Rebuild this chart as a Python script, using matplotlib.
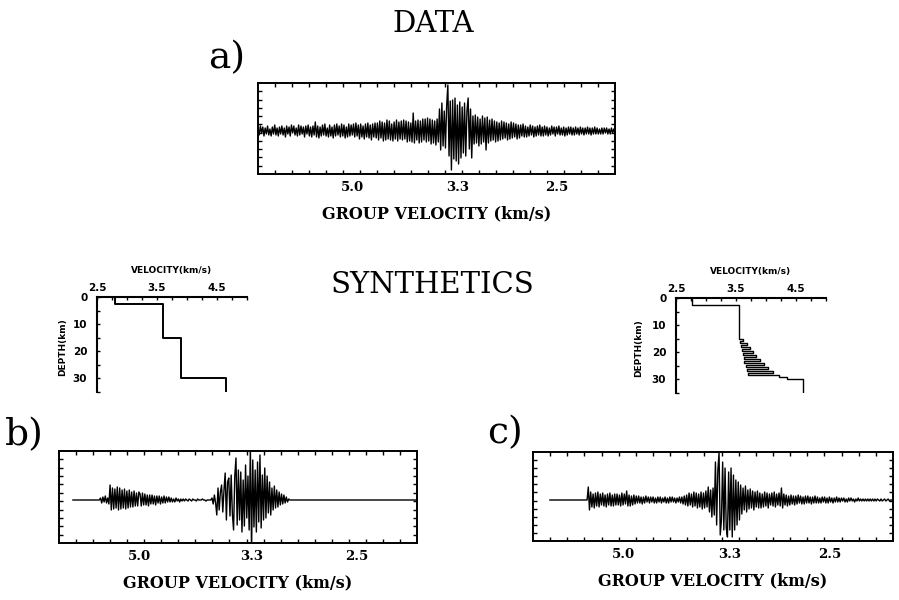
import numpy as np
import matplotlib
matplotlib.use("Agg")
import matplotlib.pyplot as plt

# group velocity labels under each seismogram (km/s)
vel_ticks = [5.0, 3.3, 2.5]
vel_labels = ["5.0", "3.3", "2.5"]

# slowness window (s/km) shown by each seismogram panel
win_a = (0.1080, 0.4566)
win_b = (0.1265, 0.4554)
win_c = (0.1120, 0.4615)

# first sample of each trace (s/km); traces run to the right edge
start_a = 0.1080
start_b = 0.1393
start_c = 0.1284

# trace amplitudes
amp_a = [3, -4, 5, -2, 4, -5, 3, -3, 5, -4, 2, -5, 4, -3, 6, -4, 3, -5, 4, -3,
         5, -4, 3, -6, 5, -3, 4, -5, 6, -2, 5, -4, 3, -5, 6, -4, 5, -3, 4, -6,
         5, -3, 6, -5, 4, -6, 5, -4, 9, -6, 5, -7, 4, -5, 6, -4, 7, -5, 3, -6,
         6, -5, 4, -7, 6, -5, 7, -4, 5, -6, 7, -5, 6, -7, 4, -6, 7, -5, 6, -4,
         7, -6, 8, -5, 6, -8, 7, -6, 5, -8, 7, -6, 8, -7, 6, -9, 7, -6, 8, -7,
         8, -9, 10, -7, 9, -10, 8, -9, 11, -8, 10, -9, 7, -10, 9, -8, 11, -10, 9, -8,
         10, -9, 11, -8, 10, -11, 9, -10, 8, -11, 18, -12, 10, -9, 11, -12, 10, -11, 12, -9,
         12, -11, 13, -10, 12, -13, 11, -12, 10, -14, 12, -11, 22, -19, 28, -15, 20, -17, 25, 46,
         -25, 30, -39, 31, -28, 33, -30, 26, -33, 29, -27, 24, -22, 28, -25, 20, 33, -18, 22, -27,
         15, -13, 16, -12, 14, -15, 12, -13, 15, -11, 13, -19, 14, -12, 11, -10, 12, -9, 10, -11,
         9, -10, 8, -9, 10, -8, 9, -7, 8, -9, 7, -8, 9, -7, 8, -6, 7, -8, 6, -7,
         6, -5, 7, -6, 5, -6, 4, -5, 6, -4, 5, -6, 4, -5, 5, -4, 6, -5, 4, -5,
         5, -4, 4, -5, 3, -4, 5, -3, 4, -5, 4, -3, 5, -4, 3, -4, 4, -5, 3, -4,
         4, -3, 4, -4, 3, -4, 4, -3, 3, -4, 4, -3, 3, -4, 3, -3, 4, -3, 3, -4,
         3, -3, 4, -3, 3, -3, 2, -3, 3, -3, 3, -2, 3, -3, 2, -3, 3, -2, 2, -2]

amp_b = ([0] * 23 +
         [2, -3, 3, -2, 4, -3, 2, -4,
          15, -10, 12, -9, 11, -8, 13, -10, 12, -9, 10, -8, 11, -9, 9, -8,
          10, -7, 8, -7, 9, -6, 7, -6, 8,
          6, -6, 7, -5, 6, -5, 5, -6, 5, -4, 5, -4, 4, -5, 4, -3, 4, -4,
          3, -3, 4, -3, 3, -2, 3,
          -2, 2, -2, 1, -2, 2, -1, 1, -2, 1, -1, 1, -1, 1, 0, -1, 1, 0,
          -1, 1, 0, 0, -1, 1, 0, 0, 0, 1, 0, 0, -1, 0, 0, 0, 0,
          2, -4, 5, -3, -15, 12, -10, 8, 15, -12, 10, 27, -20, 18, 22, -16,
          25, -14, -30, 24, 42, -25, 30, -20, 28, -32, 20, -26, 35, -18, 24,
          -30, 52, -50, 40,
          -27, 30, -32, 38, -22, 45, -28, 25, -20, 32, -18, 24, -13, 18, -15,
          12, -10, 14, -8, 10, -7, 8, -5, 6, -4, 5, -3, 3, -2, 1] +
         [0] * 107)

amp_c = ([0] * 32 +
         [13, -10, 8, -7, 6, -8, 7, -6, 8, -7, 6, -5, 7, -6, 5, -7, 6, -5,
          7, -6, 5, -6, 6, -5,
          6, -5, 5, -6, 7, -5, 6, -4, 9, -6, 5, -6, 4, -5, 5, -4, 4,
          -3, 4, -3, 3, -4, 3, -3, 4, -2, 3, -3, 3, -2, 3, -3, 2, -3, 3, -2, 3,
          -3, 2, -2, 3, -3, 2, -3, 3, -2, 3, -2, 2, -3, 2, -2, 3, -3, 3, -4, 4,
          -5, 5, -6, 7, -5, 6, -7, 8, -6, 7, -8, 6, -7, 8, -9, 7, -8, 9, -7,
          13, -12, 10, -17, 12, -15, 38, -25, 30, 47, -35, -20, 38, -30, 32,
          -28, -37, 28, -30, 32, -37, 25, -30, 20, -25, 18, -20, 15, -14,
          12, -10, 14, -12, 10, -9, 11, -8, 9, -10, 8, -7, 9, -8, 7,
          -8, 6, -7, 8, -6, 7, -8, 6, -5, 7, -6, 8, -7, 6, -5, 7, -6, 12, -8,
          6, -5, 5, -6, 4, -5,
          5, -4, 4, -5, 4, -4, 5, -3, 4, -4, 3, -4, 4, -3, 4, -3, 3, -4, 3, -3,
          4, -3, 3, -3, 2, -3, 3, -2, 3, -3, 2, -3, 3, -2, 2, -3, 2, -2, 3, -2,
          2, -2, 2, -1, 2, -2, 1, -2, 2, -1, 2, -1, 1, -2, 1, -1, 2, -1, 1, -1,
          1, -1, 1, -1, 1, -1, 1, -1, 1, -1, 1, -1, 1, 0, -1, 1, -1, 0, 1, -1,
          0, 1, -1, 0, 0, 0])

# shear velocity models: layer tops (km), velocities (km/s), model bottom
tops_b = [0, 2.5, 15, 30]
vs_b = [2.8, 3.6, 3.9, 4.65]

tops_c = [0, 2.5, 15, 15.75, 16.5, 17.25, 18, 18.75, 19.5, 20.25, 21,
          21.75, 22.5, 23.25, 24, 24.75, 25.5, 26.25, 27, 27.75, 28.5,
          29.25, 30]
vs_c = [2.77, 3.55, 3.62, 3.56, 3.68, 3.58, 3.74, 3.60, 3.79, 3.61, 3.84,
        3.63, 3.90, 3.64, 3.97, 3.66, 4.04, 3.68, 4.12, 3.70, 4.22, 4.35,
        4.62]
model_bottom = 35

serif = "DejaVu Serif"

fig = plt.figure(figsize=(8.99, 6.0), dpi=100)


def seismogram(rect, amp, start, win, ylim):
    ax = fig.add_axes(rect)
    t = np.linspace(start, win[1], len(amp))
    ax.plot(t, amp, color="k", lw=1.0)
    ax.set_xlim(win)
    ax.set_ylim(ylim)
    ax.set_xticks([1.0 / v for v in vel_ticks])
    ax.set_xticklabels(vel_labels, fontfamily=serif, fontweight="bold", fontsize=9.5)
    ax.set_xticks(np.linspace(win[0], win[1], 22)[1:-1], minor=True)
    ax.set_yticks([])
    ax.set_yticks(np.linspace(ylim[0], ylim[1], 12)[1:-1], minor=True)
    ax.tick_params(which="major", length=0, pad=5)
    ax.tick_params(which="minor", direction="in", length=3, width=1,
                   top=True, bottom=True, left=True, right=True)
    for s in ax.spines.values():
        s.set_linewidth(1.4)
    ax.set_xlabel("GROUP VELOCITY (km/s)", fontfamily=serif, fontweight="bold",
                  fontsize=11.5, labelpad=8)
    return ax


def vel_model(rect, tops, vs, label_x, lw):
    ax = fig.add_axes(rect)
    z = np.repeat(tops + [model_bottom], 2)[1:-1]
    v = np.repeat(vs, 2)
    ax.plot(v, z, color="k", lw=lw)
    ax.set_xlim(2.5, 5.0)
    ax.set_ylim(model_bottom, 0)
    ax.spines["right"].set_visible(False)
    ax.spines["bottom"].set_visible(False)
    for s in ["top", "left"]:
        ax.spines[s].set_linewidth(1.5)
    ax.xaxis.tick_top()
    ax.set_xticks([2.5, 3.5, 4.5])
    ax.set_xticklabels(["2.5", "3.5", "4.5"], fontweight="bold", fontsize=7.5)
    ax.set_xticks(np.arange(2.5, 5.01, 0.25), minor=True)
    ax.set_yticks([0, 10, 20, 30])
    ax.set_yticklabels(["0", "10", "20", "30"], fontweight="bold", fontsize=7.5)
    ax.set_yticks(np.arange(0, 35.1, 5), minor=True)
    ax.tick_params(which="both", direction="in", length=2.5, width=1, pad=3)
    ax.tick_params(axis="y", pad=7)
    ax.text(0.5, 1.28, "VELOCITY(km/s)", transform=ax.transAxes, ha="center",
            va="center", fontweight="bold", fontsize=6.5)
    ax.text(label_x, 0.47, "DEPTH(km)", transform=ax.transAxes, ha="center",
            va="center", rotation=90, fontweight="bold", fontsize=6.5)
    return ax


seismogram([258 / 899, 1 - 174 / 600, 357 / 899, 91 / 600], amp_a, start_a, win_a, (-43, 48))
seismogram([59 / 899, 1 - 543 / 600, 358 / 899, 92 / 600], amp_b, start_b, win_b, (-43, 49))
seismogram([533 / 899, 1 - 541 / 600, 360 / 899, 89 / 600], amp_c, start_c, win_c, (-41, 48))

vel_model([97 / 899, 1 - 392 / 600, 150 / 899, 95 / 600], tops_b, vs_b, -0.23, 1.4)
vel_model([676 / 899, 1 - 393 / 600, 150 / 899, 95 / 600], tops_c, vs_c, -0.25, 1.0)

fig.text(433 / 899, 1 - 32 / 600, "DATA", fontfamily=serif, fontsize=21, ha="center", va="baseline")
fig.text(432 / 899, 1 - 293 / 600, "SYNTHETICS", fontfamily=serif, fontsize=21, ha="center", va="baseline")
fig.text(227 / 899, 1 - 68 / 600, "a)", fontfamily=serif, fontsize=27, ha="center", va="baseline")
fig.text(24 / 899, 1 - 445 / 600, "b)", fontfamily=serif, fontsize=27, ha="center", va="baseline")
fig.text(505 / 899, 1 - 443 / 600, "c)", fontfamily=serif, fontsize=27, ha="center", va="baseline")

fig.savefig("out.png", dpi=100)
